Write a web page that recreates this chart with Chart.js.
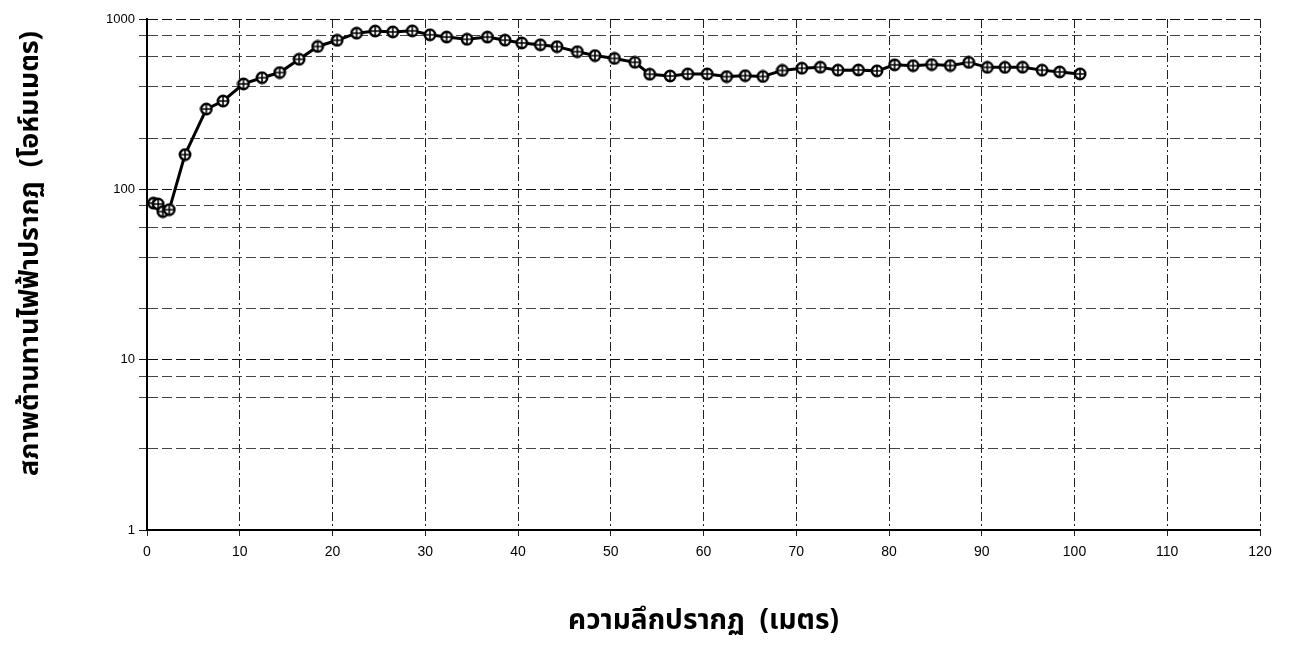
<!DOCTYPE html>
<html lang="th">
<head>
    <meta charset="UTF-8">
    <title>Resistivity vs depth</title>
    <script src="https://cdn.jsdelivr.net/npm/chart.js@4.4.0/dist/chart.umd.min.js"></script>
    <style>
        html, body { margin: 0; padding: 0; background: #fff; }
        #wrap { width: 1290px; height: 666px; position: relative; }
    </style>
</head>
<body>
    <div id="wrap"><canvas id="chart"></canvas></div>
<script>
    // depth (m) and apparent resistivity (ohm-m)
    var depths = [0.7, 1.2, 1.7, 2.4, 4.1, 6.4, 8.2, 10.4, 12.4, 14.3, 16.4, 18.4, 20.5, 22.6, 24.6, 26.5, 28.6, 30.5, 32.3,
        34.5, 36.7, 38.6, 40.4, 42.4, 44.2, 46.4, 48.3, 50.4, 52.6, 54.2, 56.4, 58.3, 60.4, 62.5, 64.5,
        66.4, 68.5, 70.6, 72.6, 74.5, 76.7, 78.7, 80.6, 82.6, 84.6, 86.6, 88.6, 90.6, 92.5, 94.4, 96.5, 98.4, 100.6];
    var resistivity = [83, 82, 74, 76, 160, 296, 330, 416, 452, 485, 580, 690, 750, 826, 850, 840, 852, 808, 784,
        760, 783, 751, 723, 706, 688, 643, 610, 587, 557, 474, 463, 476, 476, 459, 465,
        460, 499, 514, 521, 501, 502, 496, 538, 532, 540, 533, 556, 520, 520, 521, 501, 489, 476];
    var xTicks = [0, 10, 20, 30, 40, 50, 60, 70, 80, 90, 100, 110, 120];
    var yTicks = [1, 10, 100, 1000];

    var xTitle = 'ความลึกปรากฏ  (เมตร)';
    // leading spaces push the rotated title up a little, as in the scan
    var yTitle = '\u00A0\u00A0\u00A0\u00A0\u00A0\u00A0สภาพต้านทานไฟฟ้าปรากฏ  (โอห์มเมตร)';

    // circle with a plus inside, like the scan's markers
    function makeMarker() {
        var c = document.createElement('canvas');
        c.width = 14; c.height = 14;
        var g = c.getContext('2d');
        g.strokeStyle = '#000';
        g.lineWidth = 2.5;
        g.fillStyle = '#fff';
        g.beginPath(); g.arc(7, 7, 5.2, 0, Math.PI * 2); g.fill(); g.stroke();
        g.lineWidth = 1.6;
        g.beginPath();
        g.moveTo(7, 2.5); g.lineTo(7, 11.5);
        g.moveTo(2.5, 7); g.lineTo(11.5, 7);
        g.stroke();
        return c;
    }

    var pts = depths.map(function (d, i) { return { x: d, y: resistivity[i] }; });
    var thaiFont = "'Noto Sans Thai', 'Tahoma', sans-serif";

    new Chart(document.getElementById('chart'), {
        type: 'line',
        data: {
            datasets: [{
                data: pts,
                borderColor: '#000',
                borderWidth: 3,
                pointStyle: makeMarker(),
                pointRadius: 7,
                tension: 0
            }]
        },
        options: {
            responsive: true,
            maintainAspectRatio: false,
            animation: false,
            events: [],
            layout: { padding: { top: 19, right: 30, bottom: 22, left: 0 } },
            plugins: { legend: { display: false }, tooltip: { enabled: false } },
            scales: {
                x: {
                    type: 'linear',
                    min: 0, max: 120,
                    afterBuildTicks: function (s) { s.ticks = xTicks.map(function (v) { return { value: v }; }); },
                    afterFit: function (s) { s.height = 114; },
                    border: { color: '#000', width: 2, dash: [9, 3, 2, 3] },
                    grid: { color: '#222', lineWidth: 1, tickLength: 6 },
                    ticks: { color: '#000', padding: 8, font: { family: 'Liberation Sans', size: 14 } },
                    title: {
                        display: true, text: xTitle, color: '#000',
                        font: { family: thaiFont, size: 28, weight: 'bold' },
                        padding: { top: 38 }
                    }
                },
                y: {
                    type: 'logarithmic',
                    min: 1, max: 1000,
                    afterFit: function (s) { s.width = 147; },
                    border: { color: '#000', width: 2, dash: [10, 4] },
                    grid: {
                        color: function (ctx) { return yTicks.indexOf(ctx.tick.value) >= 0 ? '#111' : '#444'; },
                        lineWidth: 1,
                        tickLength: 8
                    },
                    ticks: {
                        color: '#000', padding: 4,
                        font: { family: 'Liberation Sans', size: 13 },
                        callback: function (v) { return yTicks.indexOf(v) >= 0 ? String(v) : ''; }
                    },
                    title: {
                        display: true, text: yTitle, color: '#000',
                        font: { family: thaiFont, size: 27, weight: 'bold' },
                        padding: { top: 16 }
                    }
                }
            }
        }
    });
</script>
</body>
</html>
